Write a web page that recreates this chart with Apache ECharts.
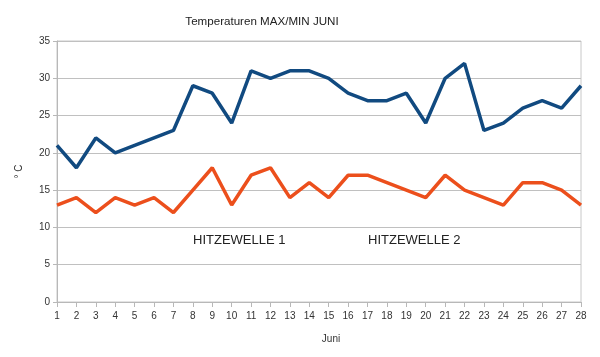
<!DOCTYPE html>
<html><head><meta charset="utf-8">
<script src="https://cdn.jsdelivr.net/npm/echarts@6/dist/echarts.min.js"></script>
<style>html,body{margin:0;padding:0;background:#fff}#c{width:600px;height:357px}</style>
</head><body><div id="c"></div>
<script>
const days = ['1','2','3','4','5','6','7','8','9','10','11','12','13','14','15','16','17','18','19','20','21','22','23','24','25','26','27','28'];
const maxTemp = [21,18,22,20,21,22,23,29,28,24,31,30,31,31,30,28,27,27,28,24,30,32,23,24,26,27,26,29];
const minTemp = [13,14,12,14,13,14,12,15,18,13,17,18,14,16,14,17,17,16,15,14,17,15,14,13,16,16,15,13];
const yTicks = [0,5,10,15,20,25,30,35];
const notes = ['HITZEWELLE 1','HITZEWELLE 2'];

const chart = echarts.init(document.getElementById('c'));
const font = 'Liberation Sans, Arial, sans-serif';
chart.setOption({
  animation:false,
  title:{text:'Temperaturen MAX/MIN JUNI',left:257,top:11,textAlign:'center',
    textStyle:{fontFamily:font,fontSize:11.6,fontWeight:'normal',color:'#222'}},
  grid:{left:57,right:19,top:41,bottom:55,show:true,borderColor:'#c8c8c8',borderWidth:1},
  xAxis:{type:'category',data:days,boundaryGap:false,name:'Juni',nameLocation:'middle',nameGap:32,
    nameTextStyle:{fontFamily:font,fontSize:10,color:'#333',padding:[0,0,0,24]},
    axisLine:{lineStyle:{color:'#b8b8b8'}},
    axisTick:{show:true,length:5,lineStyle:{color:'#b8b8b8'}},
    axisLabel:{fontFamily:font,fontSize:10,color:'#333',margin:9,interval:0},
    splitLine:{show:false}},
  yAxis:{type:'value',min:0,max:35,interval:5,name:'° C',nameLocation:'middle',nameGap:33,nameRotate:90,
    nameTextStyle:{fontFamily:font,fontSize:10,color:'#333'},
    axisLine:{show:true,lineStyle:{color:'#b8b8b8'}},
    axisTick:{show:true,length:4,lineStyle:{color:'#b8b8b8'}},
    axisLabel:{fontFamily:font,fontSize:10,color:'#333',margin:7,
      formatter:v=>yTicks.includes(v)?String(v):''},
    splitLine:{show:true,lineStyle:{color:'#c0c0c0'}}},
  series:[
    {name:'MAX',type:'line',data:maxTemp,symbol:'none',lineStyle:{color:'#114a80',width:3.5},itemStyle:{color:'#114a80'}},
    {name:'MIN',type:'line',data:minTemp,symbol:'none',lineStyle:{color:'#ec4f1c',width:3.5},itemStyle:{color:'#ec4f1c'}}
  ],
  graphic:[
    {type:'text',left:193,top:234,style:{text:notes[0],fontFamily:font,fontSize:13,fill:'#222'}},
    {type:'text',left:368,top:234,style:{text:notes[1],fontFamily:font,fontSize:13,fill:'#222'}}
  ]
});
</script></body></html>
